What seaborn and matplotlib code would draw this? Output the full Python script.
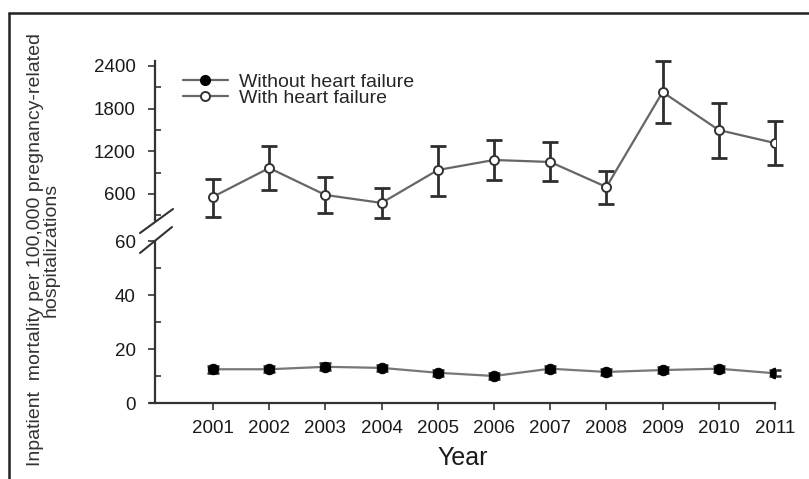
import matplotlib
matplotlib.use("Agg")
import matplotlib.pyplot as plt
from matplotlib.lines import Line2D
from matplotlib.ticker import FixedLocator
import numpy as np
import pandas as pd
import seaborn as sns

years = [2001, 2002, 2003, 2004, 2005, 2006, 2007, 2008, 2009, 2010, 2011]

# Mortality among hospitalizations with heart failure (point estimate and 95% CI)
with_hf = [560, 965, 586, 474, 937, 1078, 1050, 698, 2033, 1499, 1316]
with_hf_low = [277, 656, 333, 263, 572, 797, 783, 459, 1598, 1106, 1007]
with_hf_high = [810, 1274, 839, 684, 1274, 1359, 1331, 923, 2469, 1879, 1626]

# Mortality among hospitalizations without heart failure
without_hf = [12.5, 12.5, 13.4, 13.0, 11.2, 10.0, 12.7, 11.5, 12.2, 12.7, 11.0]
without_hf_low = [11.2, 11.3, 12.1, 11.8, 10.1, 9.0, 11.6, 10.4, 11.1, 11.6, 9.9]
without_hf_high = [13.8, 13.7, 14.7, 14.2, 12.3, 11.0, 13.8, 12.6, 13.3, 13.8, 12.1]

top_ticks = [600, 1200, 1800, 2400]
top_minor = [300, 900, 1500, 2100]
bot_ticks = [0, 20, 40, 60]
bot_minor = [10, 30, 50]

sns.set_theme(style="white")
plt.rcParams["font.family"] = ["Liberation Sans", "DejaVu Sans"]

W, H = 809, 479
fig = plt.figure(figsize=(W / 100, H / 100), dpi=100)
fig.patch.set_facecolor("white")


def fx(px):
    return px / W


def fy(py):
    return 1 - py / H


ax_top = fig.add_axes([fx(150), fy(220), fx(625), (220 - 61) / H])
ax_bot = fig.add_axes([fx(150), fy(403), fx(625), (403 - 241) / H])

line_col = "#666666"
err_col = "#2e2e2e"

df_hf = pd.DataFrame({"year": years, "rate": with_hf})
df_nohf = pd.DataFrame({"year": years, "rate": without_hf})

sns.lineplot(data=df_hf, x="year", y="rate", ax=ax_top, color=line_col,
             linewidth=1.6, marker="o", markersize=6.5,
             markerfacecolor="white", markeredgecolor="#333333",
             markeredgewidth=1.4, zorder=3)
sns.lineplot(data=df_nohf, x="year", y="rate", ax=ax_bot, color="#777777",
             linewidth=1.6, marker="o", markersize=7.5,
             markerfacecolor="black", markeredgecolor="black", zorder=3)

hf = np.array(with_hf)
ax_top.errorbar(years, hf, yerr=[hf - np.array(with_hf_low), np.array(with_hf_high) - hf],
                fmt="none", ecolor=err_col, elinewidth=2, capsize=6, capthick=2,
                zorder=2, clip_on=False)
nohf = np.array(without_hf)
ax_bot.errorbar(years, nohf, yerr=[nohf - np.array(without_hf_low), np.array(without_hf_high) - nohf],
                fmt="none", ecolor=err_col, elinewidth=2, capsize=4.5, capthick=1.8,
                zorder=2, clip_on=False)

xlim = (2001 - 63 / 56.2, 2011)
for ax in (ax_top, ax_bot):
    ax.set_xlim(*xlim)
    ax.set_facecolor("white")
    ax.grid(False)
    ax.set_xlabel("")
    ax.set_ylabel("")
    for s in ("top", "right"):
        ax.spines[s].set_visible(False)
    ax.spines["left"].set_position(("axes", 5 / 625))
    ax.spines["left"].set_color("#333333")
    ax.spines["left"].set_linewidth(1.6)
    ax.tick_params(axis="y", which="major", direction="out", length=5, width=1.2,
                   color="#333333", labelsize=13.5, pad=9, left=True, labelcolor="#1a1a1a")
    ax.tick_params(axis="y", which="minor", direction="in", length=4, width=1.2,
                   color="#333333", left=True)

ax_top.set_ylim(234, 2470)
ax_top.set_yticks(top_ticks)
ax_top.yaxis.set_minor_locator(FixedLocator(top_minor))
ax_top.spines["bottom"].set_visible(False)
ax_top.set_xticks([])

ax_bot.set_ylim(0, 60)
ax_bot.set_yticks(bot_ticks)
ax_bot.yaxis.set_minor_locator(FixedLocator(bot_minor))
ax_bot.spines["bottom"].set_color("#333333")
ax_bot.spines["bottom"].set_linewidth(1.6)
ax_bot.set_xticks(years)
ax_bot.set_xticklabels([str(y) for y in years])
ax_bot.tick_params(axis="x", direction="out", length=5, width=1.2, color="#333333",
                   labelsize=13.5, pad=7, bottom=True, labelcolor="#1a1a1a")

# axis break marks
for (x0, y0, x1, y1) in [(140, 233, 173, 209), (140, 253, 172, 227)]:
    fig.add_artist(Line2D([fx(x0), fx(x1)], [fy(y0), fy(y1)], color="#333333", lw=1.5))

# outer frame along the top and left
fig.add_artist(Line2D([fx(8.5), fx(809)], [fy(13), fy(13)], color="#222222", lw=1.8))
fig.add_artist(Line2D([fx(8.5), fx(8.5)], [fy(13), fy(479)], color="#222222", lw=1.8))

handles = [
    Line2D([], [], color=line_col, lw=1.6, marker="o", markersize=7,
           markerfacecolor="black", markeredgecolor="black"),
    Line2D([], [], color=line_col, lw=1.6, marker="o", markersize=6.5,
           markerfacecolor="white", markeredgecolor="#333333", markeredgewidth=1.4),
]
ax_top.legend(handles, ["Without heart failure", "With heart failure"],
              loc="upper left", bbox_to_anchor=(fx(183), fy(73)),
              bbox_transform=fig.transFigure, frameon=False, fontsize=14,
              handlelength=2.3, handletextpad=0.6, labelspacing=-0.05,
              borderpad=0, borderaxespad=0)

fig.text(fx(43), fy(250), "Inpatient  mortality per 100,000 pregnancy-related\nhospitalizations",
         rotation=90, ha="center", va="center", multialignment="center",
         fontsize=14, linespacing=0.92, color="#333333")
fig.text(fx(463), fy(458), "Year", ha="center", va="center", fontsize=18, color="#1a1a1a")

fig.savefig("out.png", dpi=100, facecolor="white")
